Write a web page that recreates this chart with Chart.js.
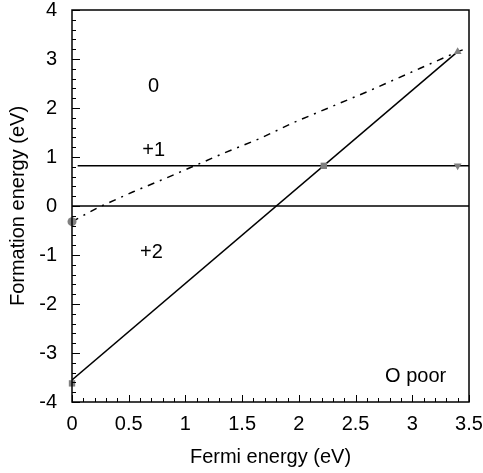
<!DOCTYPE html>
<html>
<head>
<meta charset="utf-8">
<script src="https://cdn.jsdelivr.net/npm/chart.js@4.4.1/dist/chart.umd.min.js"></script>
<style>
  html, body { margin: 0; padding: 0; background: #fff; }
  #c { display: block; }
</style>
</head>
<body>
<canvas id="c" width="483" height="473" style="width:483px;height:473px"></canvas>
<script>
// DATA
const X_TICKS = [0, 0.5, 1, 1.5, 2, 2.5, 3, 3.5];
const Y_TICKS = [-4, -3, -2, -1, 0, 1, 2, 3, 4];

// +2 / 0 transition line (solid, slope ~2)
const diagX = [0, 3.4];
const diagY = [-3.55, 3.15];

// horizontal reference lines
const zeroX = [0, 3.5];
const zeroY = [0, 0];
const plusOneX = [0.05, 3.5];
const plusOneY = [0.82, 0.82];

// dash-dot curve
const dashX = [0, 0.23, 0.54, 0.85, 1.06, 1.33, 1.66, 1.95, 2.26, 2.6, 3.07, 3.4, 3.46];
const dashY = [-0.32, -0.03, 0.29, 0.59, 0.8, 1.07, 1.38, 1.7, 2.0, 2.33, 2.81, 3.15, 3.2];

// grey markers
const markX = [0, 0, 2.22, 3.4, 3.4];
const markY = [-0.32, -3.62, 0.82, 3.15, 0.82];
const markStyle = ['circle', 'rect', 'rect', 'triangle', 'triangle'];
const markRot = [0, 0, 0, 0, 180];

// in-plot text
const LABELS = ['0', '+1', '+2', 'O poor'];
const LABEL_X = [0.72, 0.72, 0.7, 3.03];
const LABEL_Y = [2.43, 1.14, -0.95, -3.47];

const FONT = '"Liberation Sans", Arial, Helvetica, sans-serif';
const INK = '#000';

const pts = (xs, ys) => xs.map((x, i) => ({ x, y: ys[i] }));

function line(xs, ys, extra) {
    return Object.assign({
        type: 'line',
        data: pts(xs, ys),
        borderColor: INK,
        borderWidth: 1.5,
        pointRadius: 0,
        fill: false,
        tension: 0
    }, extra || {});
}

// frame + inward ticks + text labels
const decor = {
    id: 'decor',
    afterDraw(chart) {
        const { ctx, chartArea: a, scales: { x, y } } = chart;
        ctx.save();
        ctx.strokeStyle = INK;
        ctx.lineWidth = 1.5;
        ctx.strokeRect(a.left, a.top, a.right - a.left, a.bottom - a.top);

        ctx.lineWidth = 1;
        ctx.beginPath();
        for (let i = 0; i <= 35; i++) {
            const px = Math.round(x.getPixelForValue(i / 10)) + 0.5;
            const len = i % 5 === 0 ? 7 : 4;
            ctx.moveTo(px, a.bottom);
            ctx.lineTo(px, a.bottom - len);
        }
        for (let i = -20; i <= 20; i++) {
            const py = Math.round(y.getPixelForValue(i / 5)) + 0.5;
            const len = i % 5 === 0 ? 8 : 4;
            ctx.moveTo(a.left, py);
            ctx.lineTo(a.left + len, py);
        }
        ctx.stroke();

        ctx.fillStyle = INK;
        ctx.font = '20px ' + FONT;
        ctx.textAlign = 'center';
        ctx.textBaseline = 'middle';
        LABELS.forEach((t, i) => {
            ctx.fillText(t, x.getPixelForValue(LABEL_X[i]), y.getPixelForValue(LABEL_Y[i]));
        });
        ctx.restore();
    }
};

new Chart(document.getElementById('c'), {
    type: 'scatter',
    data: {
        datasets: [
            {
                type: 'scatter',
                data: pts(markX, markY),
                pointStyle: markStyle,
                rotation: markRot,
                pointRadius: 4.5,
                backgroundColor: '#808080',
                borderColor: '#808080',
                borderWidth: 0,
                clip: false
            },
            line(diagX, diagY),
            line(zeroX, zeroY),
            line(plusOneX, plusOneY),
            line(dashX, dashY, { borderDash: [7, 6, 2, 6] })
        ]
    },
    options: {
        responsive: false,
        animation: false,
        events: [],
        layout: { padding: { top: 10, right: 14, left: 0, bottom: 0 } },
        plugins: {
            legend: { display: false },
            tooltip: { enabled: false }
        },
        scales: {
            x: {
                type: 'linear',
                min: 0,
                max: 3.5,
                afterFit: s => { s.height = 71; s.paddingLeft = 0; s.paddingRight = 0; },
                afterBuildTicks: s => { s.ticks = X_TICKS.map(v => ({ value: v })); },
                grid: { display: false, drawTicks: false },
                border: { display: false },
                ticks: {
                    color: INK,
                    padding: 10,
                    maxRotation: 0,
                    font: { family: FONT, size: 20 },
                    callback: v => String(v)
                },
                title: {
                    display: true,
                    text: 'Fermi energy (eV)',
                    color: INK,
                    font: { family: FONT, size: 20 },
                    padding: { top: 4, bottom: 4 }
                }
            },
            y: {
                type: 'linear',
                min: -4,
                max: 4,
                afterFit: s => { s.width = 72; s.paddingTop = 0; s.paddingBottom = 0; },
                afterBuildTicks: s => { s.ticks = Y_TICKS.map(v => ({ value: v })); },
                grid: { display: false, drawTicks: false },
                border: { display: false },
                ticks: {
                    color: INK,
                    padding: 15,
                    font: { family: FONT, size: 20 },
                    callback: v => String(v)
                },
                title: {
                    display: true,
                    text: 'Formation energy (eV)',
                    color: INK,
                    font: { family: FONT, size: 20 },
                    padding: { top: 6, bottom: 4 }
                }
            }
        }
    },
    plugins: [decor]
});
</script>
</body>
</html>
